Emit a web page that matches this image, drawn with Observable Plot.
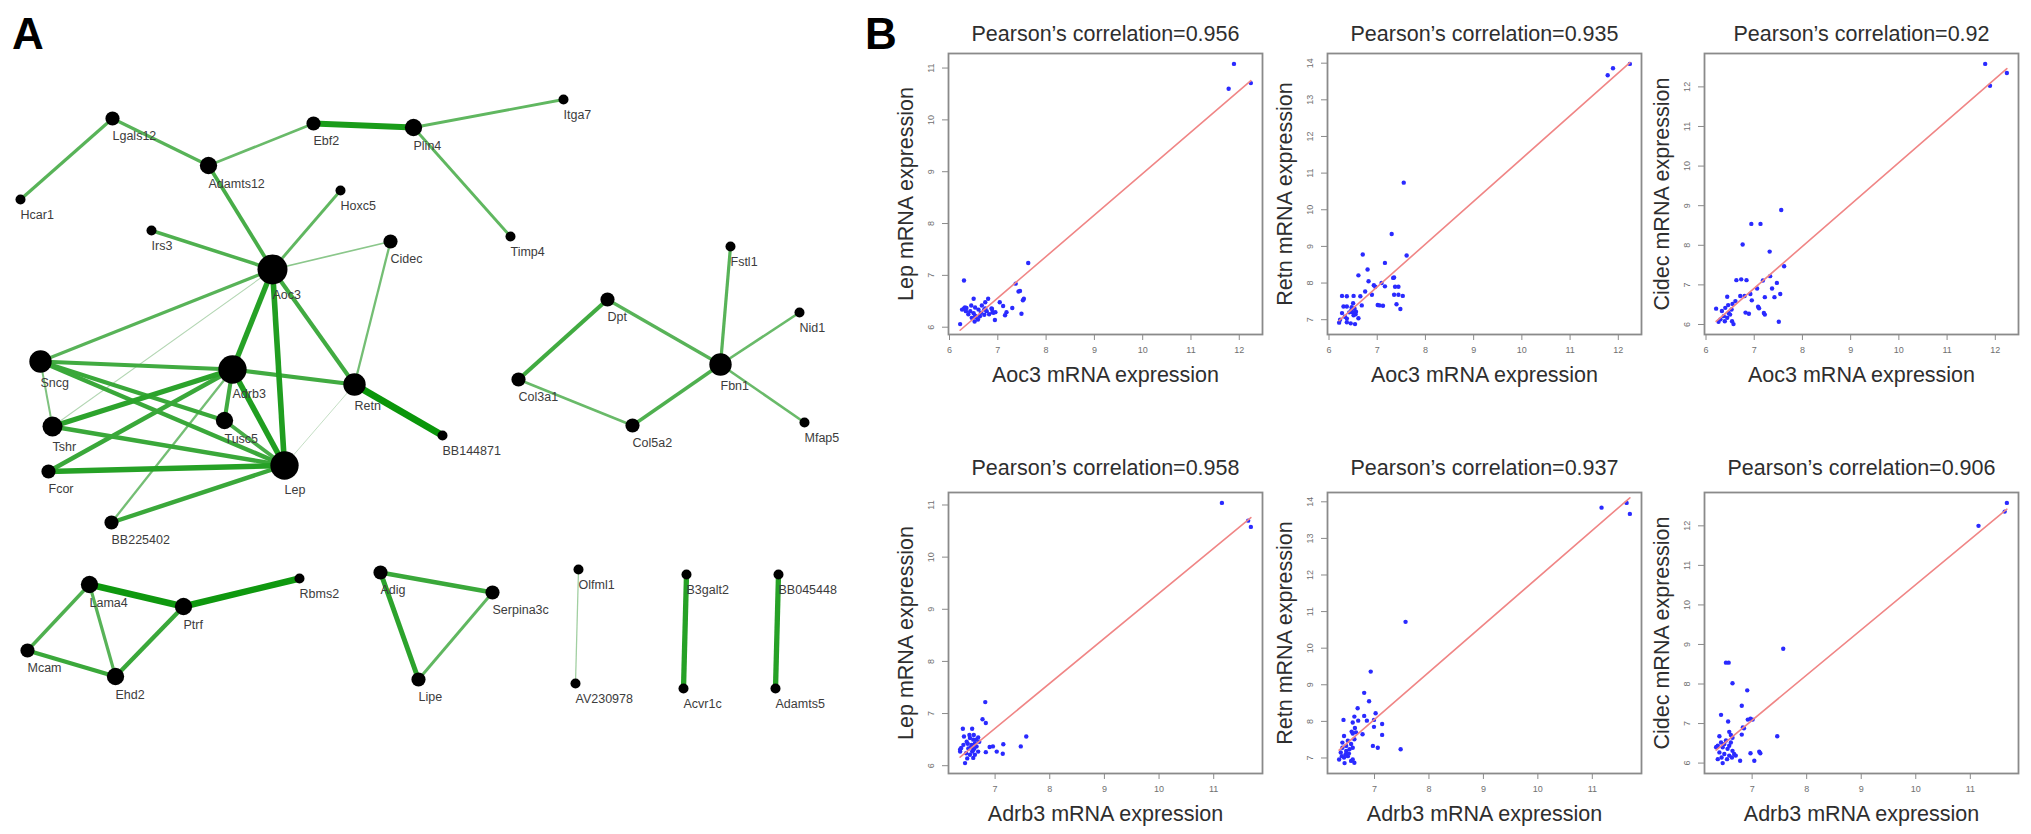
<!DOCTYPE html>
<html><head><meta charset="utf-8">
<script src="https://cdn.jsdelivr.net/npm/d3@7"></script>
<script src="https://cdn.jsdelivr.net/npm/@observablehq/plot@0.6"></script>
<style>
html,body{margin:0;padding:0;background:#fff;}
#fig{position:relative;width:2031px;height:834px;overflow:hidden;font-family:"Liberation Sans",Arial,sans-serif;}
.panel{position:absolute;}
.letter{position:absolute;font-weight:bold;font-size:44px;line-height:1;color:#000;font-family:"Liberation Sans",Arial,sans-serif;}
</style></head><body><div id="fig"></div>
<script>
// ---------- Panel A: co-expression network ----------
// node: [gene, layoutX, layoutY]
const nodes = [
  ["Hcar1",20,199],["Lgals12",112,118],["Adamts12",208,165],["Ebf2",313,123],["Plin4",413,127],
  ["Itga7",563,99],["Hoxc5",340,190],["Irs3",151,230],["Cidec",390,241],["Timp4",510,236],
  ["Aoc3",272,269],["Fstl1",730,246],["Dpt",607,299],["Nid1",799,312],["Fbn1",720,364],
  ["Col3a1",518,379],["Col5a2",632,425],["Mfap5",804,422],["Sncg",40,361],["Adrb3",232,369],
  ["Retn",354,384],["BB144871",442,435],["Tshr",52,426],["Tusc5",224,420],["Fcor",48,471],
  ["Lep",284,465],["BB225402",111,522],["Lama4",89,584],["Ptrf",183,606],["Rbms2",299,578],
  ["Mcam",27,650],["Ehd2",115,676],["Adig",380,572],["Serpina3c",492,592],["Lipe",418,679],
  ["Olfml1",578,569],["AV230978",575,683],["B3galt2",686,574],["Acvr1c",683,688],
  ["BB045448",778,574],["Adamts5",775,688]
];
// edge: [source, target, correlation strength 0..1]
const edges = [
  ["Ebf2","Plin4",0.85],["Hcar1","Lgals12",0.4],["Lgals12","Adamts12",0.4],["Adamts12","Ebf2",0.3],
  ["Plin4","Itga7",0.35],["Plin4","Timp4",0.35],["Adamts12","Aoc3",0.5],["Hoxc5","Aoc3",0.35],
  ["Irs3","Aoc3",0.45],["Cidec","Aoc3",0.15],["Cidec","Retn",0.25],["Aoc3","Sncg",0.4],
  ["Aoc3","Tshr",0.04],["Aoc3","Adrb3",0.75],["Aoc3","Lep",0.8],["Aoc3","Retn",0.55],
  ["Sncg","Adrb3",0.55],["Sncg","Tusc5",0.6],["Sncg","Lep",0.6],["Sncg","Tshr",0.2],
  ["Tshr","Adrb3",0.7],["Tshr","Lep",0.6],["Fcor","Adrb3",0.6],["Fcor","Lep",0.75],
  ["BB225402","Adrb3",0.25],["BB225402","Lep",0.6],["Adrb3","Tusc5",0.55],["Adrb3","Lep",0.8],
  ["Adrb3","Retn",0.55],["Retn","BB144871",1.0],["Retn","Lep",0.02],["Tusc5","Lep",0.5],
  ["Dpt","Col3a1",0.55],["Dpt","Fbn1",0.4],["Col3a1","Col5a2",0.3],["Col5a2","Fbn1",0.45],
  ["Fbn1","Fstl1",0.4],["Fbn1","Nid1",0.3],["Fbn1","Mfap5",0.3],
  ["Lama4","Ptrf",0.95],["Ptrf","Rbms2",0.95],["Lama4","Mcam",0.45],["Lama4","Ehd2",0.4],
  ["Mcam","Ehd2",0.6],["Ptrf","Ehd2",0.6],["Adig","Serpina3c",0.6],["Adig","Lipe",0.7],
  ["Serpina3c","Lipe",0.35],["Olfml1","AV230978",0.08],["B3galt2","Acvr1c",0.75],
  ["BB045448","Adamts5",0.75]
];

// ---------- Panel B: scatter data [x, y] ----------
const aoc3Lep = [[11.78,10.6],[11.89,11.08],[12.24,10.71],
  [7.63,7.24],[6.30,6.9],[7.37,6.84],[7.43,6.69],[7.46,6.70],[7.54,6.55],[7.52,6.52],[6.50,6.55],[6.80,6.55],
  [6.74,6.48],[7.04,6.48],[7.11,6.41],[7.30,6.37],[7.18,6.29],[7.49,6.26],[7.15,6.23],[6.94,6.14],[6.22,6.06],
  [6.32,6.38],[6.35,6.37],[6.30,6.36],[6.43,6.31],[6.50,6.27],[6.53,6.22],[6.54,6.19],[6.60,6.34],[6.72,6.34],
  [6.74,6.36],[6.65,6.28],[6.77,6.31],[6.89,6.29],[6.91,6.28],[6.59,6.15],[6.46,6.18],[6.39,6.25],[6.53,6.38],
  [6.45,6.42],[6.67,6.42],[6.87,6.36],[6.88,6.35],[6.72,6.24],[6.82,6.25],[6.95,6.29],[6.34,6.31],[6.26,6.34],
  [6.63,6.21],[6.52,6.11]];
const aoc3Retn = [[11.78,13.67],[11.89,13.86],[12.24,13.98],
  [7.55,10.74],[7.30,9.34],[7.61,8.75],[6.70,8.78],[7.16,8.55],[6.80,8.37],[6.61,8.21],[6.82,8.05],[6.93,7.94],
  [6.96,7.90],[7.09,8.0],[7.16,7.91],[7.33,8.14],[7.35,8.15],[7.37,7.9],[7.44,7.9],[7.44,7.68],[7.53,7.65],
  [7.35,7.68],[6.75,7.77],[6.89,7.68],[6.65,7.64],[7.01,7.40],[7.05,7.39],[7.12,7.38],[7.40,7.42],[7.48,7.29],
  [6.68,7.39],[6.27,7.65],[6.37,7.64],[6.51,7.65],[6.30,7.36],[6.37,7.36],[6.47,7.34],[6.50,7.45],[6.46,7.25],
  [6.49,7.2],[6.53,7.3],[6.55,7.15],[6.51,7.12],[6.23,7.0],[6.27,7.18],[6.37,6.93],[6.45,6.9],[6.54,6.88],
  [6.33,7.08],[6.37,7.03],[6.61,7.04],[6.21,6.92],[6.42,7.2],[6.56,7.22]];
const aoc3Cidec = [[11.79,12.58],[11.89,12.03],[12.24,12.35],
  [7.56,8.89],[6.94,8.54],[7.13,8.54],[6.76,8.02],[7.32,7.84],[7.62,7.47],[7.33,7.22],[6.63,7.12],[6.73,7.14],
  [6.84,7.12],[7.18,7.11],[7.47,7.05],[7.06,6.91],[7.37,6.91],[6.92,6.77],[7.54,6.77],[6.44,6.70],[6.71,6.72],
  [6.80,6.72],[7.22,6.69],[7.42,6.69],[6.95,6.61],[6.55,6.52],[7.08,6.45],[7.10,6.41],[6.82,6.30],[6.89,6.27],
  [7.20,6.29],[7.22,6.25],[6.21,6.40],[7.51,6.07],[6.33,6.34],[6.40,6.42],[6.47,6.29],[6.37,6.21],[6.30,6.13],
  [6.44,6.17],[6.50,6.25],[6.54,6.08],[6.57,6.01],[6.39,6.08],[6.26,6.07],[6.53,6.38],[6.46,6.49],[6.61,6.59]];
const adrb3Lep = [[11.68,10.58],[11.15,11.04],[11.63,10.70],
  [6.82,7.22],[6.77,6.89],[6.83,6.82],[7.57,6.56],[7.47,6.37],[7.15,6.41],[7.14,6.23],[6.96,6.37],[6.90,6.36],
  [7.03,6.27],[6.83,6.26],[6.41,6.71],[6.58,6.71],[6.43,6.56],[6.69,6.54],[6.36,6.31],[6.38,6.34],[6.45,6.05],
  [6.48,6.46],[6.54,6.53],[6.60,6.50],[6.63,6.43],[6.57,6.40],[6.51,6.33],[6.60,6.30],[6.66,6.37],[6.47,6.24],
  [6.54,6.21],[6.63,6.21],[6.69,6.27],[6.49,6.14],[6.60,6.15],[6.42,6.40],[6.53,6.59],[6.61,6.59],[6.36,6.27],
  [6.65,6.50],[6.71,6.46],[6.56,6.36],[6.62,6.33],[6.50,6.42],[6.58,6.27]];
const adrb3Retn = [[11.69,13.67],[11.17,13.84],[11.63,13.97],
  [7.57,10.72],[7.48,7.24],[6.93,9.36],[6.81,8.78],[6.90,8.55],[6.69,8.36],[7.02,8.22],[6.81,8.15],[6.86,8.02],
  [6.63,8.13],[6.70,8.02],[6.43,8.04],[6.99,8.04],[7.14,7.93],[6.99,7.85],[7.14,7.63],[6.60,7.97],[6.64,7.82],
  [6.58,7.72],[6.60,7.67],[6.66,7.70],[6.78,7.65],[6.97,7.33],[7.06,7.28],[6.44,7.6],[6.51,7.47],[6.57,7.38],
  [6.48,7.33],[6.41,7.28],[6.54,7.24],[6.60,7.28],[6.38,7.15],[6.48,7.19],[6.63,7.51],[6.41,7.42],[6.35,6.96],
  [6.44,7.01],[6.51,7.05],[6.57,6.92],[6.63,6.87],[6.60,6.96],[6.47,7.1],[6.53,7.12],[6.40,7.05],[6.45,6.86]];
const adrb3Cidec = [[11.67,12.58],[11.15,12.0],[11.63,12.36],
  [7.57,8.89],[6.52,8.54],[6.57,8.54],[6.64,8.02],[6.91,7.84],[6.81,7.45],[6.43,7.22],[6.92,7.10],[6.97,7.12],
  [7.01,7.10],[6.56,7.05],[6.83,6.90],[6.85,6.88],[6.81,6.72],[7.46,6.68],[6.40,6.68],[6.58,6.79],[6.61,6.71],
  [6.64,6.64],[6.97,6.25],[7.13,6.29],[7.15,6.25],[7.04,6.06],[6.78,6.06],[6.46,6.00],[6.35,6.41],[6.37,6.44],
  [6.43,6.52],[6.49,6.48],[6.52,6.57],[6.58,6.44],[6.61,6.52],[6.46,6.40],[6.55,6.36],[6.64,6.31],[6.40,6.27],
  [6.49,6.23],[6.58,6.19],[6.67,6.23],[6.37,6.10],[6.44,6.14],[6.54,6.10],[6.63,6.14],[6.70,6.19],[6.34,6.40]];

const correlations = [0.956, 0.935, 0.92, 0.958, 0.937, 0.906];
const aoc3Ticks = [6,7,8,9,10,11,12];
const adrb3Ticks = [7,8,9,10,11];
const lepTicks = [6,7,8,9,10,11];
const retnTicks = [7,8,9,10,11,12,13,14];
const cidecTicks = [6,7,8,9,10,11,12];

const FONT = '"Liberation Sans", Arial, sans-serif';
const fig = document.getElementById("fig");

function place(el, left, top) {
  const d = document.createElement("div");
  d.className = "panel";
  d.style.left = left + "px";
  d.style.top = top + "px";
  d.appendChild(el);
  fig.appendChild(d);
}
function letter(t, left, top) {
  const d = document.createElement("div");
  d.className = "letter";
  d.textContent = t;
  d.style.left = left + "px";
  d.style.top = top + "px";
  fig.appendChild(d);
}

// ----- build network -----
const pos = new Map(nodes.map(([id, x, y]) => [id, {x, y}]));
const degree = new Map(nodes.map(([id]) => [id, 0]));
edges.forEach(([s, t]) => { degree.set(s, degree.get(s) + 1); degree.set(t, degree.get(t) + 1); });
const nodeData = nodes.map(([id, x, y]) => ({id, x, y, degree: degree.get(id)}));
const linkData = edges.map(([s, t, w]) => ({x1: pos.get(s).x, y1: pos.get(s).y, x2: pos.get(t).x, y2: pos.get(t).y, w}))
  .sort((a, b) => a.w - b.w);

const net = Plot.plot({
  width: 870, height: 834, margin: 0,
  x: {domain: [0, 870], range: [0, 870], axis: null},
  y: {domain: [0, 834], range: [0, 834], axis: null},
  color: {type: "pow", exponent: 0.5, domain: [0, 1], range: ["#dde6dd", "#0a960a"]},
  r: {type: "sqrt", domain: [0, 9], range: [0, 15]},
  style: {fontFamily: FONT, background: "transparent"},
  marks: [
    Plot.link(linkData, {x1: "x1", y1: "y1", x2: "x2", y2: "y2", stroke: "w", strokeWidth: d => 0.8 + 6 * d.w, strokeLinecap: "butt"}),
    Plot.dot(nodeData, {x: "x", y: "y", r: "degree", fill: "#000"}),
    Plot.text(nodeData, {x: "x", y: d => d.y + 5 * Math.sqrt(d.degree) + 10, text: "id", textAnchor: "start", fontSize: 12.5, fill: "#3c3c3c"})
  ]
});
place(net, 0, 0);
letter("A", 12, 12);
letter("B", 865, 12);

// ----- scatter plots -----
const pad = ext => { const d = (ext[1] - ext[0]) * 0.04; return [ext[0] - d, ext[1] + d]; };
const ML = 60, MT = 40, FW = 314, FH = 281;

function scatter(cfg) {
  const data = cfg.points.map(([x, y]) => ({x, y}));
  return Plot.plot({
    width: ML + FW + 10, height: MT + FH + 60,
    marginLeft: ML, marginRight: 10, marginTop: MT, marginBottom: 60,
    x: {domain: pad(d3.extent(data, d => d.x))},
    y: {domain: pad(d3.extent(data, d => d.y))},
    style: {fontFamily: FONT, background: "transparent", overflow: "visible"},
    marks: [
      Plot.axisX({ticks: cfg.xTicks, tickSize: 6, tickPadding: 6, fontSize: 9, fill: "#707070", stroke: "#8a8a8a", label: null, tickFormat: d => String(d)}),
      Plot.axisY({ticks: cfg.yTicks, tickSize: 6, tickPadding: 9, tickRotate: -90, fontSize: 9, fill: "#707070", stroke: "#8a8a8a", label: null, tickFormat: d => String(d)}),
      Plot.dot(data, {x: "x", y: "y", r: 2.2, fill: "#2a2aff"}),
      Plot.linearRegressionY(data, {x: "x", y: "y", ci: 0, stroke: "#f08686", strokeWidth: 1.6}),
      Plot.frame({stroke: "#8a8a8a", strokeWidth: 1.8}),
      Plot.text([cfg.title], {text: d => d, frameAnchor: "top", textAnchor: "middle", dy: -cfg.titleGap, lineAnchor: "bottom", fontSize: 21.5, fill: "#2e2e2e"}),
      Plot.text([cfg.xLabel], {text: d => d, frameAnchor: "bottom", textAnchor: "middle", dy: 47, lineAnchor: "bottom", fontSize: 21.5, fill: "#2e2e2e"}),
      Plot.text([cfg.yLabel], {text: d => d, frameAnchor: "left", textAnchor: "middle", dx: -36, rotate: -90, lineAnchor: "bottom", fontSize: 21.5, fill: "#2e2e2e"})
    ]
  });
}

const panels = [
  {points: aoc3Lep, xLabel: "Aoc3 mRNA expression", yLabel: "Lep mRNA expression", xTicks: aoc3Ticks, yTicks: lepTicks, left: 948, top: 53, titleGap: 13},
  {points: aoc3Retn, xLabel: "Aoc3 mRNA expression", yLabel: "Retn mRNA expression", xTicks: aoc3Ticks, yTicks: retnTicks, left: 1327, top: 53, titleGap: 13},
  {points: aoc3Cidec, xLabel: "Aoc3 mRNA expression", yLabel: "Cidec mRNA expression", xTicks: aoc3Ticks, yTicks: cidecTicks, left: 1704, top: 53, titleGap: 13},
  {points: adrb3Lep, xLabel: "Adrb3 mRNA expression", yLabel: "Lep mRNA expression", xTicks: adrb3Ticks, yTicks: lepTicks, left: 948, top: 492, titleGap: 18},
  {points: adrb3Retn, xLabel: "Adrb3 mRNA expression", yLabel: "Retn mRNA expression", xTicks: adrb3Ticks, yTicks: retnTicks, left: 1327, top: 492, titleGap: 18},
  {points: adrb3Cidec, xLabel: "Adrb3 mRNA expression", yLabel: "Cidec mRNA expression", xTicks: adrb3Ticks, yTicks: cidecTicks, left: 1704, top: 492, titleGap: 18}
];
panels.forEach((p, i) => {
  p.title = `Pearson\u2019s correlation=${correlations[i]}`;
  place(scatter(p), p.left - ML, p.top - MT);
});
</script></body></html>
